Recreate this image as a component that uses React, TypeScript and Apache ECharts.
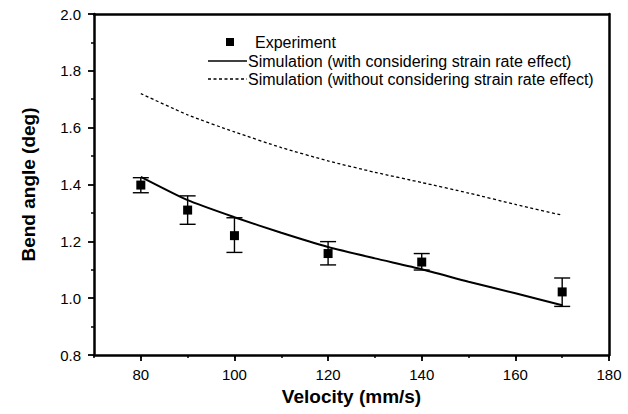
import React, { useEffect, useRef } from "react";
import * as echarts from "echarts";

const velocities = [80, 90, 100, 120, 140, 170];
const expValues = [1.398, 1.31, 1.22, 1.157, 1.127, 1.022];
const expLow = [1.371, 1.26, 1.161, 1.117, 1.099, 0.971];
const expHigh = [1.424, 1.36, 1.283, 1.199, 1.157, 1.071];

const simX = [80, 90, 100, 110, 120, 130, 140, 150, 160, 170];
const simWith = [1.427, 1.345, 1.285, 1.23, 1.18, 1.14, 1.102, 1.058, 1.017, 0.975];
const simWithout = [1.72, 1.645, 1.585, 1.53, 1.483, 1.443, 1.407, 1.37, 1.33, 1.292];

const legendLabels = [
  "Experiment",
  "Simulation (with considering strain rate effect)",
  "Simulation (without considering strain rate effect)",
];
const xTitle = "Velocity (mm/s)";
const yTitle = "Bend angle (deg)";

const FONT = "'Liberation Sans', Arial, sans-serif";

export default function App() {
  const ref = useRef<HTMLDivElement>(null);
  useEffect(() => {
    if (!ref.current) return;
    const chart = echarts.init(ref.current, null, { renderer: "svg" });
    const errData = velocities.map((v, i) => [v, expLow[i], expHigh[i]]);
    const axisLineStyle = () => ({ color: "#000", width: 2.5, opacity: 1 });
    const plainX = (pos: string) => ({
      type: "value",
      min: 70,
      max: 180,
      position: pos,
      axisLine: { show: true, onZero: false, lineStyle: axisLineStyle() },
      axisTick: { show: false },
      axisLabel: { show: false },
      splitLine: { show: false },
    });
    const plainY = (pos: string) => ({
      type: "value",
      min: 0.8,
      max: 2.0,
      interval: 0.2,
      position: pos,
      axisLine: { show: true, onZero: false, lineStyle: axisLineStyle() },
      axisTick: { show: false },
      axisLabel: { show: false },
      splitLine: { show: false },
    });
    chart.setOption({
      animation: false,
      backgroundColor: "#fff",
      textStyle: { fontFamily: FONT, color: "#000" },
      grid: { left: 94, right: 19, top: 14, bottom: 59, show: false },
      xAxis: [
        {
          type: "value",
          min: 70,
          max: 180,
          splitNumber: 5,
          position: "bottom",
          name: xTitle,
          nameLocation: "middle",
          nameGap: 31,
          nameTextStyle: { fontFamily: FONT, fontSize: 19, fontWeight: "bold", color: "#000" },
          axisLine: { show: false, onZero: false },
          axisTick: { show: true, inside: false, length: 6, lineStyle: { color: "#000", width: 1.8, opacity: 1 } },
          axisLabel: { showMinLabel: false, margin: 12, fontSize: 15, fontFamily: FONT, color: "#000" },
          splitLine: { show: false },
        },
        {
          type: "value",
          min: 70,
          max: 180,
          interval: 10,
          position: "bottom",
          axisLine: { show: false },
          axisTick: { show: true, inside: false, length: 3, lineStyle: { color: "#000", width: 1.5, opacity: 1 } },
          axisLabel: { show: false },
          splitLine: { show: false },
        },
        plainX("top"),
        plainX("bottom"),
      ],
      yAxis: [
        {
          type: "value",
          min: 0.8,
          max: 2.0,
          interval: 0.2,
          position: "left",
          name: yTitle,
          nameLocation: "middle",
          nameGap: 56,
          nameRotate: 90,
          nameTextStyle: { fontFamily: FONT, fontSize: 19, fontWeight: "bold", color: "#000" },
          axisLine: { show: false, onZero: false },
          axisTick: { show: true, inside: false, length: 6, lineStyle: { color: "#000", width: 1.8, opacity: 1 } },
          minorTick: { show: true, splitNumber: 2, length: 3, lineStyle: { color: "#000", width: 1.5, opacity: 1 } },
          axisLabel: {
            margin: 13,
            fontSize: 15,
            fontFamily: FONT,
            color: "#000",
            formatter: (v: number) => v.toFixed(1),
          },
          splitLine: { show: false },
          minorSplitLine: { show: false },
        },
        plainY("right"),
        plainY("left"),
      ],
      series: [
        {
          name: legendLabels[2],
          type: "line",
          data: simX.map((x, i) => [x, simWithout[i]]),
          smooth: 0.2,
          showSymbol: false,
          lineStyle: { color: "#000", width: 1.3, type: [3, 2.5], opacity: 1 },
        },
        {
          name: legendLabels[1],
          type: "line",
          data: simX.map((x, i) => [x, simWith[i]]),
          smooth: 0.2,
          showSymbol: false,
          lineStyle: { color: "#000", width: 2, opacity: 1 },
        },
        {
          name: "errorbars",
          type: "custom",
          data: errData,
          renderItem: (params: any, api: any) => {
            const x = api.value(0);
            const lo = api.coord([x, api.value(1)]);
            const hi = api.coord([x, api.value(2)]);
            const hw = 8;
            const style = { stroke: "#000", lineWidth: 1.4 };
            return {
              type: "group",
              children: [
                { type: "line", shape: { x1: lo[0], y1: lo[1], x2: hi[0], y2: hi[1] }, style },
                { type: "line", shape: { x1: lo[0] - hw, y1: lo[1], x2: lo[0] + hw, y2: lo[1] }, style },
                { type: "line", shape: { x1: hi[0] - hw, y1: hi[1], x2: hi[0] + hw, y2: hi[1] }, style },
              ],
            };
          },
          z: 3,
        },
        {
          name: legendLabels[0],
          type: "scatter",
          data: velocities.map((v, i) => [v, expValues[i]]),
          symbol: "rect",
          symbolSize: 9,
          itemStyle: { color: "#000", opacity: 1 },
          z: 4,
        },
      ],
      graphic: [
        { type: "rect", shape: { x: 226, y: 38, width: 8, height: 8 }, style: { fill: "#000" } },
        {
          type: "text",
          x: 255,
          y: 42,
          style: { text: legendLabels[0], fontFamily: FONT, fontSize: 16, fill: "#000", verticalAlign: "middle" },
        },
        { type: "line", shape: { x1: 208, y1: 61, x2: 247, y2: 61 }, style: { stroke: "#000", lineWidth: 1.6 } },
        {
          type: "text",
          x: 248,
          y: 61,
          style: { text: legendLabels[1], fontFamily: FONT, fontSize: 16, fill: "#000", verticalAlign: "middle" },
        },
        {
          type: "line",
          shape: { x1: 208, y1: 79, x2: 247, y2: 79 },
          style: { stroke: "#000", lineWidth: 1.3, lineDash: [3, 2.5] },
        },
        {
          type: "text",
          x: 248,
          y: 79,
          style: { text: legendLabels[2], fontFamily: FONT, fontSize: 16, fill: "#000", verticalAlign: "middle" },
        },
      ],
    });
    return () => chart.dispose();
  }, []);
  return (
    <div
      ref={ref}
      style={{ position: "fixed", left: 0, top: 0, width: 628, height: 414, background: "#fff" }}
    />
  );
}
